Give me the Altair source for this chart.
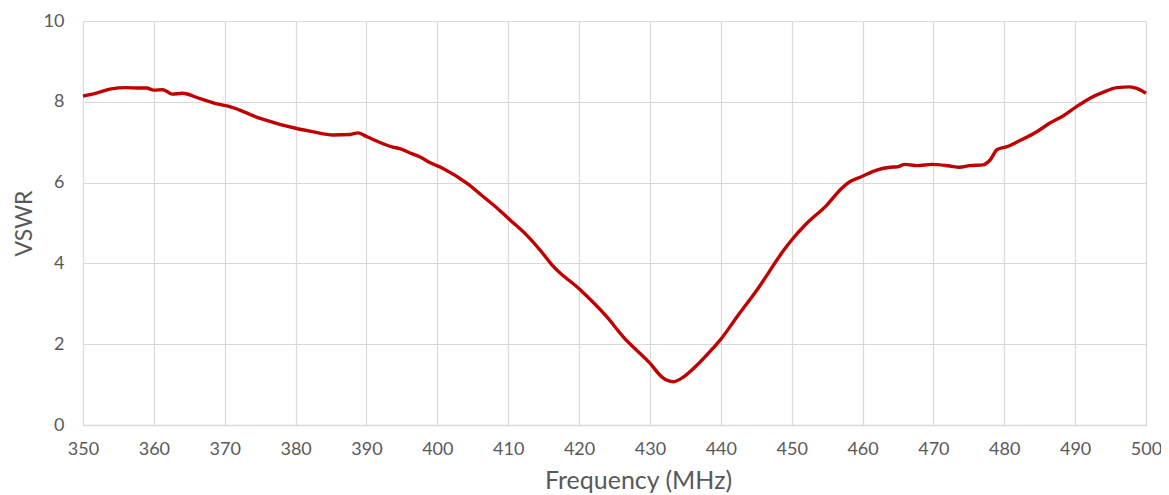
import altair as alt
import pandas as pd

freq = [350, 352, 354, 356, 358, 359, 360, 361.3, 362.6, 364, 366.5, 368.9, 370.7, 375, 380.6,
        382.4, 385.3, 387.7, 388.8, 390, 393.7, 394.7, 396.5, 397.5, 399, 400.8, 404.2, 406.5,
        408.5, 410.3, 412.6, 414.5, 416.3, 420.2, 423.9, 426.2, 430, 431.8, 433.3, 434.5, 436.7,
        438.9, 439.9, 442.3, 445.1, 448.9, 450, 452, 455, 457, 458.2, 459.9, 462, 463.9, 464.9,
        466, 467.7, 469.8, 472.3, 473.7, 475.1, 477, 478, 479, 480.4, 482.2, 484.6, 486.5, 488.3,
        490.2, 492.1, 494, 495.9, 497.7, 498.7, 500]
vswr = [8.14, 8.22, 8.32, 8.35, 8.34, 8.34, 8.29, 8.30, 8.19, 8.21, 8.08, 7.95, 7.88, 7.59, 7.32,
        7.26, 7.18, 7.19, 7.23, 7.14, 6.88, 6.84, 6.71, 6.64, 6.49, 6.35, 5.98, 5.65,
        5.36, 5.07, 4.70, 4.33, 3.94, 3.34, 2.68, 2.19, 1.53, 1.17, 1.07, 1.16, 1.49,
        1.90, 2.10, 2.68, 3.34, 4.33, 4.58, 4.97, 5.45, 5.85, 6.02, 6.15, 6.31, 6.38, 6.39,
        6.45, 6.42, 6.45, 6.41, 6.38, 6.42, 6.44, 6.56, 6.82, 6.89, 7.04, 7.26, 7.48, 7.65,
        7.88, 8.09, 8.24, 8.35, 8.37, 8.33, 8.21]

df = pd.DataFrame({"freq": freq, "vswr": vswr})

FONT = "Lato"
GRAY = "#595959"
GRID = "#d9d9d9"

chart = alt.Chart(df).mark_line(
    color="#C00000", strokeWidth=3.4, interpolate="monotone"
).encode(
    x=alt.X("freq:Q", title="Frequency (MHz)",
            scale=alt.Scale(domain=[350, 500], nice=False, zero=False),
            axis=alt.Axis(values=list(range(350, 501, 10)), ticks=False, domain=True,
                          domainColor=GRID, domainWidth=1.5, gridColor=GRID,
                          labelFlush=False, labelOverlap=False,
                          labelFont=FONT, labelFontSize=18, labelColor=GRAY,
                          labelPadding=15, titleFont=FONT, titleFontSize=25,
                          titleFontWeight="normal", titleColor=GRAY,
                          titleX=555, titleAlign="center",
                          titleY=55, titleBaseline="middle")),
    y=alt.Y("vswr:Q", title="VSWR",
            scale=alt.Scale(domain=[0, 10], nice=False),
            axis=alt.Axis(values=[0, 2, 4, 6, 8, 10], ticks=False, domain=False,
                          gridColor=GRID, labelFont=FONT, labelFontSize=18,
                          labelColor=GRAY, labelPadding=19, labelFlush=False,
                          titleFont=FONT,
                          titleFontSize=23, titleFontWeight="normal", titleColor=GRAY,
                          titleX=-59, titleBaseline="middle")),
).properties(
    width=1063, height=404,
    autosize=alt.AutoSizeParams(type="none"),
    padding={"left": 75, "top": 13, "right": 15, "bottom": 70},
).configure_view(stroke=None).configure_axis(gridWidth=1.2)

chart.save("out.html", embed_options={"renderer": "svg", "actions": False})
